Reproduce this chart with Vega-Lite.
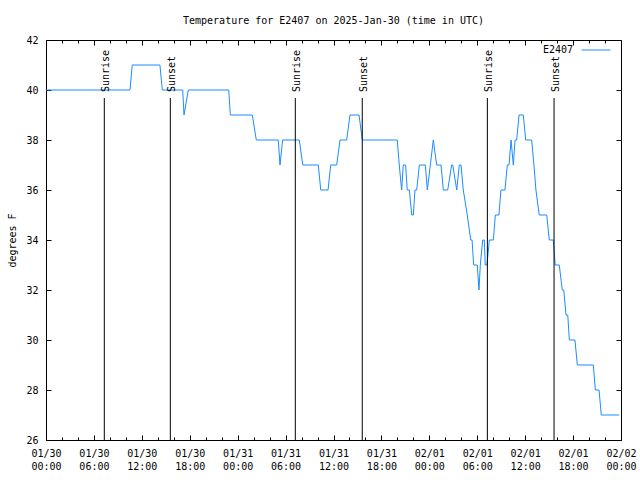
{
  "$schema": "https://vega.github.io/schema/vega-lite/v6.json",
  "width": 575,
  "height": 400,
  "autosize": "none",
  "padding": {"left": 46, "top": 40, "right": 19, "bottom": 40},
  "background": "white",
  "title": {"text": "Temperature for E2407 on 2025-Jan-30 (time in UTC)", "anchor": "middle", "offset": 9, "fontSize": 10, "fontWeight": "normal", "font": "DejaVu Sans Mono", "color": "black"},
  "config": {
    "font": "DejaVu Sans Mono",
    "view": {"stroke": "black", "strokeWidth": 1},
    "axis": {"domain": false, "grid": false, "tickColor": "black", "tickWidth": 1, "labelColor": "black", "labelFontSize": 10, "labelFont": "DejaVu Sans Mono", "titleFont": "DejaVu Sans Mono", "titleFontSize": 10, "titleFontWeight": "normal", "titleColor": "black"}
  },
  "datasets": {
    "temps": [
      {"t": "2025-01-30T00:00:00Z", "temp": 40, "series": "E2407"},
      {"t": "2025-01-30T10:31:00Z", "temp": 40, "series": "E2407"},
      {"t": "2025-01-30T10:48:00Z", "temp": 41, "series": "E2407"},
      {"t": "2025-01-30T14:16:00Z", "temp": 41, "series": "E2407"},
      {"t": "2025-01-30T14:34:00Z", "temp": 40, "series": "E2407"},
      {"t": "2025-01-30T17:07:00Z", "temp": 40, "series": "E2407"},
      {"t": "2025-01-30T17:17:00Z", "temp": 39, "series": "E2407"},
      {"t": "2025-01-30T17:49:00Z", "temp": 40, "series": "E2407"},
      {"t": "2025-01-30T22:53:00Z", "temp": 40, "series": "E2407"},
      {"t": "2025-01-30T23:05:00Z", "temp": 39, "series": "E2407"},
      {"t": "2025-01-31T01:50:00Z", "temp": 39, "series": "E2407"},
      {"t": "2025-01-31T02:20:00Z", "temp": 38, "series": "E2407"},
      {"t": "2025-01-31T05:05:00Z", "temp": 38, "series": "E2407"},
      {"t": "2025-01-31T05:18:00Z", "temp": 37, "series": "E2407"},
      {"t": "2025-01-31T05:38:00Z", "temp": 38, "series": "E2407"},
      {"t": "2025-01-31T07:43:00Z", "temp": 38, "series": "E2407"},
      {"t": "2025-01-31T08:09:00Z", "temp": 37, "series": "E2407"},
      {"t": "2025-01-31T10:06:00Z", "temp": 37, "series": "E2407"},
      {"t": "2025-01-31T10:24:00Z", "temp": 36, "series": "E2407"},
      {"t": "2025-01-31T11:19:00Z", "temp": 36, "series": "E2407"},
      {"t": "2025-01-31T11:39:00Z", "temp": 37, "series": "E2407"},
      {"t": "2025-01-31T12:24:00Z", "temp": 37, "series": "E2407"},
      {"t": "2025-01-31T12:49:00Z", "temp": 38, "series": "E2407"},
      {"t": "2025-01-31T13:39:00Z", "temp": 38, "series": "E2407"},
      {"t": "2025-01-31T14:04:00Z", "temp": 39, "series": "E2407"},
      {"t": "2025-01-31T15:12:00Z", "temp": 39, "series": "E2407"},
      {"t": "2025-01-31T15:36:00Z", "temp": 38, "series": "E2407"},
      {"t": "2025-01-31T19:59:00Z", "temp": 38, "series": "E2407"},
      {"t": "2025-01-31T20:14:00Z", "temp": 37, "series": "E2407"},
      {"t": "2025-01-31T20:32:00Z", "temp": 36, "series": "E2407"},
      {"t": "2025-01-31T20:44:00Z", "temp": 37, "series": "E2407"},
      {"t": "2025-01-31T21:02:00Z", "temp": 37, "series": "E2407"},
      {"t": "2025-01-31T21:14:00Z", "temp": 36, "series": "E2407"},
      {"t": "2025-01-31T21:30:00Z", "temp": 36, "series": "E2407"},
      {"t": "2025-01-31T21:48:00Z", "temp": 35, "series": "E2407"},
      {"t": "2025-01-31T22:00:00Z", "temp": 35, "series": "E2407"},
      {"t": "2025-01-31T22:12:00Z", "temp": 36, "series": "E2407"},
      {"t": "2025-01-31T22:25:00Z", "temp": 36, "series": "E2407"},
      {"t": "2025-01-31T22:45:00Z", "temp": 37, "series": "E2407"},
      {"t": "2025-01-31T23:30:00Z", "temp": 37, "series": "E2407"},
      {"t": "2025-01-31T23:45:00Z", "temp": 36, "series": "E2407"},
      {"t": "2025-02-01T00:30:00Z", "temp": 38, "series": "E2407"},
      {"t": "2025-02-01T00:55:00Z", "temp": 37, "series": "E2407"},
      {"t": "2025-02-01T01:28:00Z", "temp": 37, "series": "E2407"},
      {"t": "2025-02-01T01:45:00Z", "temp": 36, "series": "E2407"},
      {"t": "2025-02-01T02:18:00Z", "temp": 36, "series": "E2407"},
      {"t": "2025-02-01T02:48:00Z", "temp": 37, "series": "E2407"},
      {"t": "2025-02-01T02:56:00Z", "temp": 37, "series": "E2407"},
      {"t": "2025-02-01T03:26:00Z", "temp": 36, "series": "E2407"},
      {"t": "2025-02-01T03:45:00Z", "temp": 37, "series": "E2407"},
      {"t": "2025-02-01T03:58:00Z", "temp": 37, "series": "E2407"},
      {"t": "2025-02-01T04:15:00Z", "temp": 36, "series": "E2407"},
      {"t": "2025-02-01T04:45:00Z", "temp": 35, "series": "E2407"},
      {"t": "2025-02-01T05:11:00Z", "temp": 34, "series": "E2407"},
      {"t": "2025-02-01T05:21:00Z", "temp": 34, "series": "E2407"},
      {"t": "2025-02-01T05:33:00Z", "temp": 33, "series": "E2407"},
      {"t": "2025-02-01T06:00:00Z", "temp": 33, "series": "E2407"},
      {"t": "2025-02-01T06:13:00Z", "temp": 32, "series": "E2407"},
      {"t": "2025-02-01T06:23:00Z", "temp": 33, "series": "E2407"},
      {"t": "2025-02-01T06:41:00Z", "temp": 34, "series": "E2407"},
      {"t": "2025-02-01T06:53:00Z", "temp": 34, "series": "E2407"},
      {"t": "2025-02-01T07:00:00Z", "temp": 33, "series": "E2407"},
      {"t": "2025-02-01T07:13:00Z", "temp": 33, "series": "E2407"},
      {"t": "2025-02-01T07:31:00Z", "temp": 34, "series": "E2407"},
      {"t": "2025-02-01T08:01:00Z", "temp": 34, "series": "E2407"},
      {"t": "2025-02-01T08:16:00Z", "temp": 35, "series": "E2407"},
      {"t": "2025-02-01T08:43:00Z", "temp": 35, "series": "E2407"},
      {"t": "2025-02-01T08:58:00Z", "temp": 36, "series": "E2407"},
      {"t": "2025-02-01T09:28:00Z", "temp": 36, "series": "E2407"},
      {"t": "2025-02-01T09:46:00Z", "temp": 37, "series": "E2407"},
      {"t": "2025-02-01T09:59:00Z", "temp": 37, "series": "E2407"},
      {"t": "2025-02-01T10:14:00Z", "temp": 38, "series": "E2407"},
      {"t": "2025-02-01T10:31:00Z", "temp": 37, "series": "E2407"},
      {"t": "2025-02-01T10:44:00Z", "temp": 38, "series": "E2407"},
      {"t": "2025-02-01T10:56:00Z", "temp": 38, "series": "E2407"},
      {"t": "2025-02-01T11:14:00Z", "temp": 39, "series": "E2407"},
      {"t": "2025-02-01T11:46:00Z", "temp": 39, "series": "E2407"},
      {"t": "2025-02-01T12:04:00Z", "temp": 38, "series": "E2407"},
      {"t": "2025-02-01T12:49:00Z", "temp": 38, "series": "E2407"},
      {"t": "2025-02-01T13:06:00Z", "temp": 37, "series": "E2407"},
      {"t": "2025-02-01T13:21:00Z", "temp": 36, "series": "E2407"},
      {"t": "2025-02-01T13:46:00Z", "temp": 35, "series": "E2407"},
      {"t": "2025-02-01T14:42:00Z", "temp": 35, "series": "E2407"},
      {"t": "2025-02-01T15:01:00Z", "temp": 34, "series": "E2407"},
      {"t": "2025-02-01T15:31:00Z", "temp": 34, "series": "E2407"},
      {"t": "2025-02-01T15:46:00Z", "temp": 33, "series": "E2407"},
      {"t": "2025-02-01T16:16:00Z", "temp": 33, "series": "E2407"},
      {"t": "2025-02-01T16:39:00Z", "temp": 32, "series": "E2407"},
      {"t": "2025-02-01T16:50:00Z", "temp": 32, "series": "E2407"},
      {"t": "2025-02-01T17:07:00Z", "temp": 31, "series": "E2407"},
      {"t": "2025-02-01T17:20:00Z", "temp": 31, "series": "E2407"},
      {"t": "2025-02-01T17:32:00Z", "temp": 30, "series": "E2407"},
      {"t": "2025-02-01T18:14:00Z", "temp": 30, "series": "E2407"},
      {"t": "2025-02-01T18:32:00Z", "temp": 29, "series": "E2407"},
      {"t": "2025-02-01T20:32:00Z", "temp": 29, "series": "E2407"},
      {"t": "2025-02-01T20:47:00Z", "temp": 28, "series": "E2407"},
      {"t": "2025-02-01T21:15:00Z", "temp": 28, "series": "E2407"},
      {"t": "2025-02-01T21:32:00Z", "temp": 27, "series": "E2407"},
      {"t": "2025-02-01T23:47:00Z", "temp": 27, "series": "E2407"}
    ],
    "sun": [
      {"t": "2025-01-30T07:18:00Z", "event": "Sunrise"},
      {"t": "2025-01-30T15:34:00Z", "event": "Sunset"},
      {"t": "2025-01-31T07:13:00Z", "event": "Sunrise"},
      {"t": "2025-01-31T15:36:00Z", "event": "Sunset"},
      {"t": "2025-02-01T07:16:00Z", "event": "Sunrise"},
      {"t": "2025-02-01T15:37:00Z", "event": "Sunset"}
    ]
  },
  "layer": [
    {
      "data": {"name": "temps"},
      "mark": {"type": "line", "strokeWidth": 1, "interpolate": "linear"},
      "encoding": {
        "x": {
          "field": "t", "type": "temporal",
          "scale": {"type": "utc", "domain": [1738195200000, 1738454400000]},
          "axis": {
            "orient": "bottom", "title": null,
            "values": [1738195200000, 1738202400000, 1738209600000, 1738216800000, 1738224000000, 1738231200000, 1738238400000, 1738245600000, 1738252800000, 1738260000000, 1738267200000, 1738274400000, 1738281600000, 1738288800000, 1738296000000, 1738303200000, 1738310400000, 1738317600000, 1738324800000, 1738332000000, 1738339200000, 1738346400000, 1738353600000, 1738360800000, 1738368000000, 1738375200000, 1738382400000, 1738389600000, 1738396800000, 1738404000000, 1738411200000, 1738418400000, 1738425600000, 1738432800000, 1738440000000, 1738447200000, 1738454400000],
            "tickSize": {"condition": {"test": "utchours(datum.value) % 6 == 0", "value": -5}, "value": -3},
            "labelExpr": "utchours(datum.value) % 6 == 0 ? [utcFormat(datum.value, '%m/%d'), utcFormat(datum.value, '%H:%M')] : ''",
            "labelOverlap": false, "labelFlush": false, "labelBaseline": "top", "labelLineHeight": 13, "labelPadding": 13
          }
        },
        "y": {
          "field": "temp", "type": "quantitative",
          "scale": {"domain": [26, 42], "nice": false, "zero": false},
          "axis": {
            "orient": "left", "title": "degrees F",
            "values": [26, 28, 30, 32, 34, 36, 38, 40, 42],
            "tickSize": -5, "labelPadding": 13,
            "titleX": -34, "titleY": 200, "titleAlign": "center", "titleBaseline": "middle", "titleAngle": 270
          }
        },
        "color": {
          "field": "series", "type": "nominal",
          "scale": {"range": ["#1a8cff"]},
          "legend": {
            "orient": "none", "legendX": 535, "legendY": -5, "title": null, "padding": 0,
            "symbolType": "stroke", "symbolSize": 841, "symbolStrokeWidth": 1,
            "labelAlign": "right", "labelOffset": -38, "labelFontSize": 10, "labelColor": "black", "labelFont": "DejaVu Sans Mono"
          }
        }
      }
    },
    {
      "data": {"name": "sun"},
      "mark": {"type": "rule", "color": "black", "strokeWidth": 1},
      "encoding": {
        "x": {
          "field": "t", "type": "temporal", "scale": {"type": "utc"},
          "axis": {
            "orient": "top", "title": null, "labels": false,
            "values": [1738195200000, 1738202400000, 1738209600000, 1738216800000, 1738224000000, 1738231200000, 1738238400000, 1738245600000, 1738252800000, 1738260000000, 1738267200000, 1738274400000, 1738281600000, 1738288800000, 1738296000000, 1738303200000, 1738310400000, 1738317600000, 1738324800000, 1738332000000, 1738339200000, 1738346400000, 1738353600000, 1738360800000, 1738368000000, 1738375200000, 1738382400000, 1738389600000, 1738396800000, 1738404000000, 1738411200000, 1738418400000, 1738425600000, 1738432800000, 1738440000000, 1738447200000, 1738454400000],
            "tickSize": {"condition": {"test": "utchours(datum.value) % 6 == 0", "value": -5}, "value": -3}
          }
        },
        "y": {"datum": 26, "type": "quantitative", "axis": {"orient": "right", "title": null, "labels": false, "values": [26, 28, 30, 32, 34, 36, 38, 40, 42], "tickSize": -5}},
        "y2": {"datum": 39.68}
      }
    },
    {
      "data": {"name": "sun"},
      "mark": {"type": "text", "angle": 270, "align": "left", "baseline": "alphabetic", "dy": 5, "fontSize": 10, "color": "black"},
      "encoding": {
        "x": {"field": "t", "type": "temporal", "scale": {"type": "utc"}, "axis": null},
        "y": {"datum": 39.92, "type": "quantitative", "axis": null},
        "text": {"field": "event"}
      }
    }
  ],
  "resolve": {"axis": {"x": "independent", "y": "independent"}}
}
